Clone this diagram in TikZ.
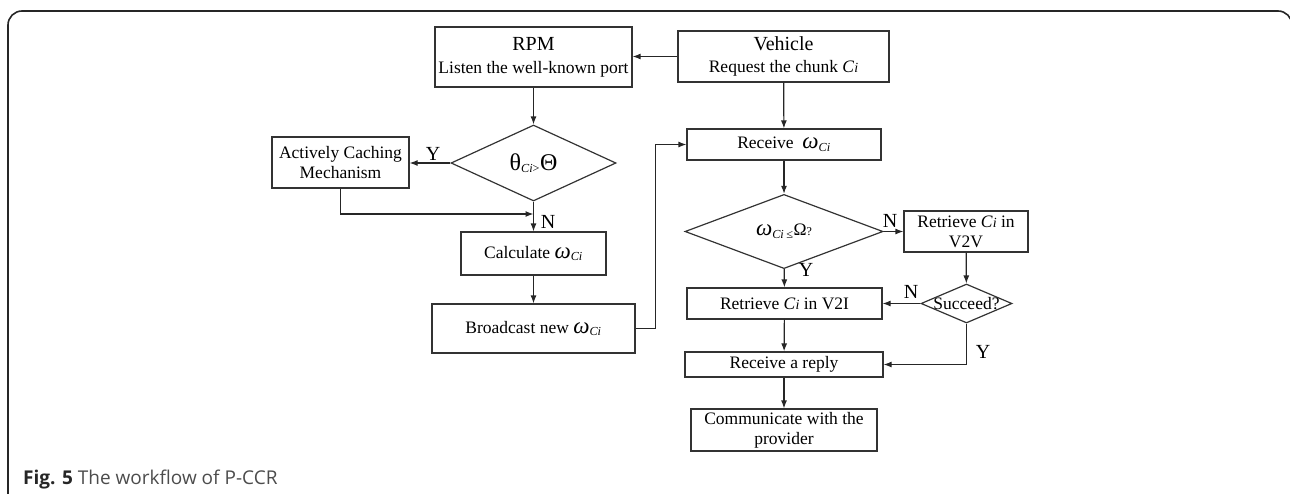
\documentclass[tikz,border=0pt]{standalone}
\usepackage{fontspec}
\setmainfont{Liberation Serif}
\newfontfamily\capfont{Open Sans}
\usetikzlibrary{shapes.geometric,arrows.meta}

% Ci and omega_Ci as printed in the figure
\newcommand{\chunkCi}{\textit{C}{\fontsize{14}{14}\selectfont\textit{i}}}
\newcommand{\omegaCi}{{\fontsize{23}{23}\selectfont\textit{ω}}\textsubscript{\textit{Ci}}}

\tikzset{
  box/.style={draw=black!80,line width=1.2pt,rectangle,inner sep=0pt,align=center,
    font=\fontsize{17.5}{20}\selectfont},
  decision/.style={draw=black!80,line width=1.2pt,diamond,inner sep=1pt,
    font=\fontsize{17.5}{20}\selectfont},
  flow/.style={draw=black!85,line width=1.2pt,->},
  yn/.style={inner sep=0pt,font=\fontsize{20}{20}\selectfont},
  >={Latex[length=8pt,width=6pt]}
}

\begin{document}
\begin{tikzpicture}[x=1pt,y=-1pt]
        \useasboundingbox (0,0) rectangle (1290,493);
        \draw[rounded corners=14pt,line width=1.6pt,black!85] (8,500) -- (8,11) -- (1292,11) -- (1292,500);

        \node[box,minimum width=197,minimum height=60] (rpm) at (533.5,57)
            {{\fontsize{20}{22}\selectfont RPM}\\[3pt]Listen the well-known port};
        \node[box,minimum width=211,minimum height=51] (veh) at (783.5,56.5)
            {{\fontsize{20}{22}\selectfont Vehicle}\\[2pt]Request the chunk \chunkCi};

        \node[decision,minimum width=165,minimum height=76] (theta) at (533.5,163)
            {{\fontsize{24}{24}\selectfont θ}\textsubscript{\textit{Ci}>}{\fontsize{24}{24}\selectfont Θ}};
        \node[box,minimum width=137,minimum height=51] (acm) at (340.5,162.5)
            {Actively Caching\\Mechanism};
        \coordinate (merge) at (533.5,214);

        \node[box,minimum width=145,minimum height=43] (calc) at (533.5,253.5) {Calculate \omegaCi};
        \node[box,minimum width=203,minimum height=49] (bcast) at (533.5,328.5) {Broadcast new \omegaCi};

        \node[box,minimum width=194,minimum height=31] (recv) at (784,144.5) {Receive\ \ \omegaCi};
        \node[decision,minimum width=198,minimum height=61] (omega) at (784,231.5)
            {\omegaCi\textsubscript{\,≤}Ω{\fontsize{12}{12}\selectfont ?}};
        \node[box,minimum width=124,minimum height=41] (v2v) at (966,231.5) {Retrieve \chunkCi{} in\\V2V};
        \node[decision,minimum width=91,minimum height=39,
            label={center:\fontsize{17.5}{20}\selectfont Succeed?}] (succ) at (966.5,303.5) {};
        \node[box,minimum width=195,minimum height=31] (v2i) at (784.5,303.5) {Retrieve \chunkCi{} in V2I};
        \node[box,minimum width=198,minimum height=25] (reply) at (784,364.5) {Receive a reply};
        \node[box,minimum width=186,minimum height=42] (comm) at (784,430)
            {Communicate with the\\provider};

        \node[yn] (ytheta) at (433,154) {Y};
        \node[yn] (ntheta) at (548,222) {N};
        \node[yn] (nomega) at (890,221) {N};
        \node[yn] (yomega) at (806,270) {Y};
        \node[yn] (nsucc) at (911,292) {N};
        \node[yn] (ysucc) at (983,352) {Y};

        \draw[flow] (veh.west) -- (veh.west -| rpm.east);
        \draw[flow] (rpm) -- (theta);
        \draw[flow] (theta.west) -- (theta.west -| acm.east);
        \draw[flow] (acm.south) |- (merge);
        \draw[flow] (theta) -- (calc);
        \draw[flow] (calc) -- (bcast);
        \draw[flow] (bcast.east) -- ++(20,0) |- (recv.west);

        \draw[flow] (veh) -- (recv);
        \draw[flow] (recv) -- (omega);
        \draw[flow] (omega.east) -- (v2v.west);
        \draw[flow] (omega) -- (v2i);
        \draw[flow] (v2v) -- (succ);
        \draw[flow] (succ.west) -- (v2i.east);
        \draw[flow] (succ.south) |- (reply.east);
        \draw[flow] (v2i) -- (reply);
        \draw[flow] (reply) -- (comm);

        \node[anchor=base west,inner sep=0pt,text=black!70,font=\capfont\fontsize{19}{22}\selectfont] (caption) at (23,484)
            {\textcolor{black!85}{\bfseries Fig. 5} The workflow of P-CCR};
    \end{tikzpicture}
\end{document}
